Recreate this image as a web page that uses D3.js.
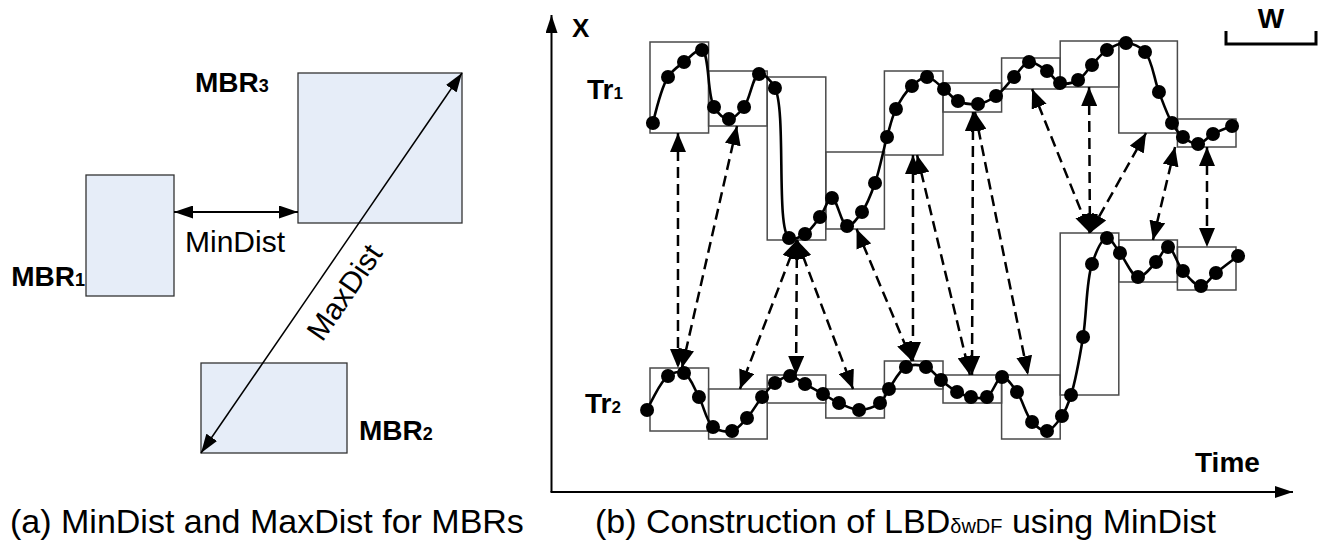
<!DOCTYPE html>
<html>
<head>
<meta charset="utf-8">
<script src="https://cdn.jsdelivr.net/npm/d3@7"></script>
<style>
body { margin: 0; background: #fff; }
text { font-family: "Liberation Sans", Arial, sans-serif; fill: #000; }
</style>
</head>
<body>
<div id="chart"></div>
<script>
// ---- panel (a): three MBRs, abstract units (x right, y up)
var mbrNames = ["1", "2", "3"];
var mbrX0 = [21.5, 50.25, 74.5];
var mbrX1 = [43.5, 86.75, 115.5];
var mbrY0 = [46, 6.75, 64.25];
var mbrY1 = [76.25, 29.25, 101.75];
var minDistLevel = 67;

// ---- panel (b): two trajectories, 10 windows of 4 time steps
var tr1Time = [0.2, 1.23, 2.32, 3.55, 4.37, 5.39, 6.42, 7.44, 8.53, 9.49, 10.58, 11.6, 12.42,
  13.45, 14.47, 15.36, 16.18, 16.79, 17.88, 18.91, 20.07, 21.02, 22.39, 23.62, 24.85, 25.87,
  27.1, 27.99, 29.22, 30.17, 31.19, 32.49, 33.79, 34.74, 35.63, 36.38, 37.41, 38.43, 39.73];
var tr1Value = [347, 393, 408, 420, 363, 351, 363, 396, 382, 232, 236, 253, 272,
  244, 258, 287, 333, 361, 384, 393, 381, 369, 366, 374, 393, 408,
  399, 387, 390, 405, 420, 427, 418, 378, 347, 333, 326, 336, 344];
var tr2Time = [-0.2, 1.23, 2.32, 3.34, 4.3, 5.6, 6.62, 7.65, 8.53, 9.56, 10.58, 11.81, 12.9,
  14.27, 15.7, 16.31, 17.47, 18.84, 19.86, 20.96, 21.91, 23.0, 24.03, 25.05, 26.08, 27.1,
  28.12, 28.74, 29.56, 30.17, 31.19, 32.08, 33.31, 34.54, 35.36, 36.38, 37.61, 38.63, 40.14];
var tr2Value = [60, 94, 97, 73, 43, 39, 52, 73, 87, 94, 86, 76, 67,
  60, 67, 81, 103, 103, 90, 78, 73, 73, 93, 78, 48, 39,
  54, 75, 133, 206, 232, 217, 193, 208, 223, 199, 184, 197, 214];

// per-window MBR bounds
var tr1BoxHi = [428, 399, 393, 318, 399, 387, 412, 429, 429, 351];
var tr1BoxLo = [337, 344, 230, 241, 315, 358, 381, 383, 337, 323];
var tr2BoxHi = [102, 81, 95, 81, 109, 95, 95, 237, 230, 223];
var tr2BoxLo = [39, 31, 67, 52, 81, 67, 31, 75, 188, 180];

// MinDist links: [Tr1 window, time at Tr1 box, Tr2 window, time at Tr2 box]
var links = [
  [0, 1.91, 0, 1.91], [1, 5.94, 0, 2.18],
  [2, 10.03, 1, 6.14], [2, 10.03, 2, 9.97], [2, 10.03, 3, 13.86],
  [3, 14.1, 4, 17.88], [4, 17.95, 4, 17.95], [4, 18.23, 5, 21.84],
  [5, 22.05, 5, 21.98], [5, 22.18, 6, 25.8],
  [6, 26.08, 7, 30.03], [7, 29.97, 7, 30.03], [8, 33.86, 7, 30.03],
  [9, 35.84, 8, 34.33], [9, 38.02, 9, 38.02]
];

var svg = d3.select("#chart").append("svg")
  .attr("width", 1325)
  .attr("height", 540);

var defs = svg.append("defs");
function marker(id, len, half) {
  defs.append("marker")
    .attr("id", id)
    .attr("viewBox", `0 ${-half} ${len} ${half * 2}`)
    .attr("refX", len)
    .attr("refY", 0)
    .attr("markerUnits", "userSpaceOnUse")
    .attr("markerWidth", len)
    .attr("markerHeight", half * 2)
    .attr("orient", "auto-start-reverse")
    .append("path")
    .attr("d", `M0,${-half}L${len},0L0,${half}Z`)
    .attr("fill", "#000");
}
marker("headA", 19, 6.5);
marker("headB", 19, 8);
marker("headAxis", 18, 6);

// ================= panel (a)
var ax = d3.scaleLinear().domain([0, 120]).range([0, 480]);
var ay = d3.scaleLinear().domain([0, 100]).range([480, 80]);

var pa = svg.append("g");
pa.selectAll("rect.mbr")
  .data(mbrNames)
  .enter()
  .append("rect")
  .attr("class", "mbr")
  .attr("x", (d, i) => ax(mbrX0[i]))
  .attr("y", (d, i) => ay(mbrY1[i]))
  .attr("width", (d, i) => ax(mbrX1[i]) - ax(mbrX0[i]))
  .attr("height", (d, i) => ay(mbrY0[i]) - ay(mbrY1[i]))
  .attr("fill", "#e6edf8")
  .attr("stroke", "#333")
  .attr("stroke-width", 1.3);

// MinDist between MBR1 and MBR3
pa.append("line")
  .attr("x1", ax(mbrX1[0])).attr("y1", ay(minDistLevel))
  .attr("x2", ax(mbrX0[2])).attr("y2", ay(minDistLevel))
  .attr("stroke", "#000").attr("stroke-width", 1.8)
  .attr("marker-start", "url(#headA)")
  .attr("marker-end", "url(#headA)");

// MaxDist between MBR2 and MBR3
pa.append("line")
  .attr("x1", ax(mbrX0[1])).attr("y1", ay(mbrY0[1]))
  .attr("x2", ax(mbrX1[2])).attr("y2", ay(mbrY1[2]))
  .attr("stroke", "#000").attr("stroke-width", 1.5)
  .attr("marker-start", "url(#headA)")
  .attr("marker-end", "url(#headA)");

pa.append("text")
  .attr("x", 185).attr("y", 252)
  .attr("font-size", 30)
  .text("MinDist");

var ang = Math.atan2(ay(mbrY1[2]) - ay(mbrY0[1]), ax(mbrX1[2]) - ax(mbrX0[1])) * 180 / Math.PI;
pa.append("text")
  .attr("transform", `translate(344,292) rotate(${ang})`)
  .attr("text-anchor", "middle")
  .attr("dy", "0.36em")
  .attr("font-size", 30)
  .text("MaxDist");

function subLabel(g, x, y, main, sub, size, subSize, anchor) {
  var t = g.append("text")
    .attr("x", x).attr("y", y)
    .attr("font-size", size)
    .attr("font-weight", "bold")
    .attr("text-anchor", anchor || "start");
  t.append("tspan").text(main);
  t.append("tspan").attr("font-size", subSize).text(sub);
  return t;
}
var mbrLabelPos = [[85, 286, "end"], [359, 440, "start"], [195, 92, "start"]];
mbrNames.forEach(function(n, i) {
  subLabel(pa, mbrLabelPos[i][0], mbrLabelPos[i][1], "MBR", n, 28, 18, mbrLabelPos[i][2]);
});

pa.append("text")
  .attr("x", 10).attr("y", 533)
  .attr("font-size", 34)
  .text("(a) MinDist and MaxDist for MBRs");

// ================= panel (b)
var tx = d3.scaleLinear().domain([0, 40]).range([650, 1236]);
var vy = d3.scaleLinear().domain([0, 440]).range([470, 30]);

var pb = svg.append("g");

// axes
pb.append("line")
  .attr("x1", 551.5).attr("y1", 492).attr("x2", 551.5).attr("y2", 15)
  .attr("stroke", "#000").attr("stroke-width", 2)
  .attr("marker-end", "url(#headAxis)");
pb.append("line")
  .attr("x1", 550.5).attr("y1", 492).attr("x2", 1293).attr("y2", 492)
  .attr("stroke", "#000").attr("stroke-width", 2)
  .attr("marker-end", "url(#headAxis)");

pb.append("text").attr("x", 572).attr("y", 37)
  .attr("font-size", 26).attr("font-weight", "bold").text("X");
pb.append("text").attr("x", 1195).attr("y", 472)
  .attr("font-size", 28).attr("font-weight", "bold").text("Time");

// window width legend
pb.append("path")
  .attr("d", "M1226,31V44H1316V31")
  .attr("fill", "none").attr("stroke", "#000").attr("stroke-width", 3);
pb.append("text").attr("x", 1271).attr("y", 28)
  .attr("text-anchor", "middle")
  .attr("font-size", 28).attr("font-weight", "bold").text("W");

subLabel(pb, 587, 99, "Tr", "1", 28, 17);
subLabel(pb, 585, 413, "Tr", "2", 28, 17);

// window MBRs
var windows = d3.range(10);
function boxes(cls, hi, lo) {
  pb.selectAll("rect." + cls)
    .data(windows)
    .enter()
    .append("rect")
    .attr("class", cls)
    .attr("x", d => tx(d * 4))
    .attr("y", d => vy(hi[d]))
    .attr("width", d => tx(d * 4 + 4) - tx(d * 4))
    .attr("height", d => vy(lo[d]) - vy(hi[d]))
    .attr("fill", "none")
    .attr("stroke", "#4a4a4a")
    .attr("stroke-width", 1.5);
}
boxes("b1", tr1BoxHi, tr1BoxLo);
boxes("b2", tr2BoxHi, tr2BoxLo);

// MinDist links between windows
pb.selectAll("line.link")
  .data(links)
  .enter()
  .append("line")
  .attr("class", "link")
  .attr("x1", d => tx(d[1]))
  .attr("y1", d => vy(tr1BoxLo[d[0]]))
  .attr("x2", d => tx(d[3]))
  .attr("y2", d => vy(tr2BoxHi[d[2]]))
  .attr("stroke", "#000")
  .attr("stroke-width", 2.5)
  .attr("stroke-dasharray", "11,6")
  .attr("marker-start", "url(#headB)")
  .attr("marker-end", "url(#headB)");

// trajectories
var line = d3.line()
  .x(d => tx(d[0]))
  .y(d => vy(d[1]))
  .curve(d3.curveCatmullRom.alpha(0.5));

[[tr1Time, tr1Value], [tr2Time, tr2Value]].forEach(function(tr, k) {
  var pts = d3.zip(tr[0], tr[1]);
  pb.append("path")
    .datum(pts)
    .attr("d", line)
    .attr("fill", "none")
    .attr("stroke", "#000")
    .attr("stroke-width", 2.6);
  pb.selectAll("circle.p" + k)
    .data(pts)
    .enter()
    .append("circle")
    .attr("class", "p" + k)
    .attr("cx", d => tx(d[0]))
    .attr("cy", d => vy(d[1]))
    .attr("r", 7)
    .attr("fill", "#000");
});

// caption
var cap = pb.append("text")
  .attr("x", 595).attr("y", 533)
  .attr("font-size", 34);
cap.append("tspan").text("(b) Construction of LBD");
cap.append("tspan").attr("font-size", 20).text("\u03B4wDF");
cap.append("tspan").text(" using MinDist");
</script>
</body>
</html>
